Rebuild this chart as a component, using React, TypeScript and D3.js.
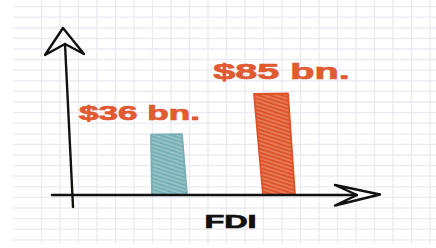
import React from "react";
import * as d3 from "d3";

const categories = ["before", "after"];
const values = [36, 85];
const valueLabels = ["$36 bn.", "$85 bn."];
const axisLabel = "FDI";

const W = 436;
const H = 248;
const barColors = ["#76afb5", "#dd5226"];
const labelColor = "#e05a32";
// hand-drawn bar shape tweaks (style only)
const topShift = [-1.5, -4];
const bottomShift = [1.5, 4];
const halfTop = [15.5, 17];
const halfBottom = [17.5, 16];
const labelDx = [-28.5, 6.5];
const labelSize = [19.5, 22];
const STRETCH = 1.8;

export default function App() {
  const y = d3.scalePow().exponent(0.6).domain([0, 85]).range([195, 94]);
  const x = d3.scalePoint<string>().domain(categories).range([168, 275]);
  const base = y(0);

  const gx = d3.range(41.5, W + 1, 18.5);
  const gy = d3.range(6.6, 244, 10.6);

  const line = d3.line();

  return (
    <svg
      width={W}
      height={H}
      style={{ position: "absolute", left: 0, top: 0, background: "#fff" }}
      fontFamily="'Liberation Sans', Arial, sans-serif"
    >
      <defs>
        {barColors.map((c, i) => (
          <pattern
            key={i}
            id={`hatch${i}`}
            patternUnits="userSpaceOnUse"
            width={6}
            height={3.6}
            patternTransform="rotate(18)"
          >
            <rect width={6} height={3.6} fill={c} />
            <line x1={0} x2={6} y1={1.8} y2={1.8} stroke="#fff" strokeWidth={0.8} opacity={0.55} />
          </pattern>
        ))}
      </defs>

      <g stroke="#ebeaf2" strokeWidth={1.3}>
        {gx.map((v, i) => (
          <line key={"v" + i} x1={v} x2={v} y1={0} y2={244} />
        ))}
        {gy.map((v, i) => (
          <line key={"h" + i} x1={13} x2={W} y1={v} y2={v} />
        ))}
      </g>

      {values.map((v, i) => {
        const cx = x(categories[i]) as number;
        const top = y(v);
        const pts: [number, number][] = [
          [cx + bottomShift[i] - halfBottom[i], base],
          [cx + topShift[i] - halfTop[i], top],
          [cx + topShift[i] + halfTop[i], top - 0.5],
          [cx + bottomShift[i] + halfBottom[i], base],
        ];
        return (
          <path
            key={i}
            d={line(pts) + "Z"}
            fill={`url(#hatch${i})`}
            stroke={barColors[i]}
            strokeWidth={1.8}
            strokeLinejoin="round"
          />
        );
      })}

      {/* x axis */}
      <g fill="none" stroke="#111" strokeWidth={2.4} strokeLinejoin="round" strokeLinecap="round">
        <path d={line([[52, base], [357, base]]) as string} />
        <path d={line([[335, 185], [380, 194.5], [335, 205.5], [357, 195], [335, 185]]) as string} />
        {/* y axis */}
        <path d={line([[73, 207], [65, 44]]) as string} />
        <path d={line([[63, 28], [84, 54], [65, 44], [45, 55], [63, 28]]) as string} />
      </g>

      {values.map((v, i) => {
        const cx = (x(categories[i]) as number) + labelDx[i];
        const ty = y(v) - 15;
        return (
          <text
            key={i}
            transform={`translate(${cx},${ty}) scale(${STRETCH},1)`}
            textAnchor="middle"
            fontWeight={700}
            fontSize={labelSize[i]}
            fill={labelColor}
            stroke={labelColor}
            strokeWidth={0.7}
          >
            {valueLabels[i]}
          </text>
        );
      })}

      <text
        transform={`translate(230.5,228) scale(${STRETCH},1)`}
        textAnchor="middle"
        fontWeight={700}
        fontSize={18}
        fill="#111"
        stroke="#111"
        strokeWidth={0.7}
      >
        {axisLabel}
      </text>
    </svg>
  );
}
